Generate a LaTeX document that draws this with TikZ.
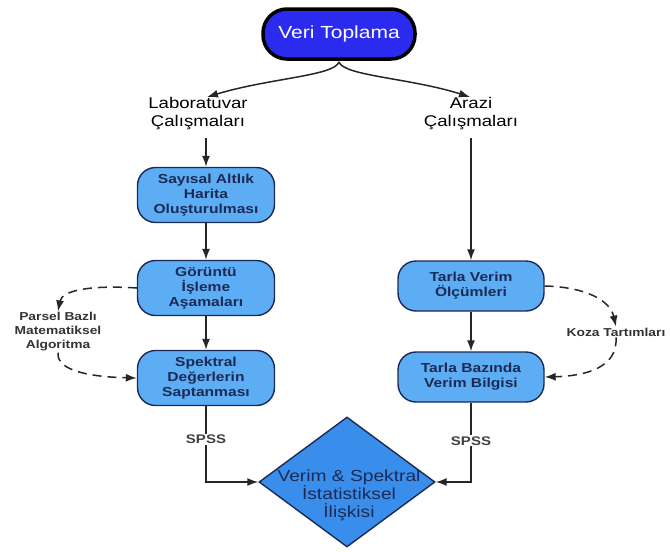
\documentclass[tikz,border=0pt]{standalone}
\usepackage{fontspec}
\setmainfont[FakeStretch=1.2]{Liberation Sans}
\usetikzlibrary{shapes.geometric,arrows.meta}
\definecolor{topblue}{HTML}{2B2BF0}
\definecolor{boxblue}{HTML}{5DADF5}
\definecolor{diablue}{HTML}{3A8EEB}
\definecolor{navy}{HTML}{1B2A55}
\begin{document}
\begin{tikzpicture}[x=1pt,y=-1pt,
  proc/.style={draw=navy, line width=1.4pt, fill=boxblue, rounded corners=18pt,
    minimum width=137pt, minimum height=55pt, align=center, text=navy,
    font=\fontsize{13}{15}\selectfont\bfseries, inner sep=2pt},
  lbl/.style={align=center, font=\fontsize{15.5}{18}\selectfont, inner sep=0pt},
  side/.style={align=center, font=\fontsize{11.5}{14}\selectfont\bfseries, text=black!80, inner sep=1pt},
  arr/.style={-{Latex[length=11pt,width=8pt]}, line width=1.5pt, black!85},
  darr/.style={-{Latex[length=11pt,width=8pt]}, line width=1.5pt, black!85, dash pattern=on 9pt off 6pt},
  spss/.style={fill=white, font=\fontsize{12.5}{14}\selectfont\bfseries, text=black!75, inner sep=1pt}]
\useasboundingbox (0,0) rectangle (670,552);
\node[draw=black, line width=3.5pt, fill=topblue, rounded corners=24pt, minimum width=152pt,
  minimum height=50pt, text=white, font=\fontsize{17.5}{20}\selectfont] (top) at (339,34) {Veri Toplama};
\node[lbl] (lab) at (198,114) {Laboratuvar\\Çalışmaları};
\node[lbl] (ara) at (471,114) {Arazi\\Çalışmaları};
\node[proc] (s1) at (206,195) {Sayısal Altlık\\Harita\\Oluşturulması};
\node[proc] (s2) at (206,288) {Görüntü\\İşleme\\Aşamaları};
\node[proc] (s3) at (206,378) {Spektral\\Değerlerin\\Saptanması};
\node[proc, minimum width=146pt, minimum height=50pt] (r1) at (471,286) {Tarla Verim\\Ölçümleri};
\node[proc, minimum width=146pt, minimum height=50pt] (r2) at (471,377) {Tarla Bazında\\Verim Bilgisi};
\node[diamond, draw=navy, line width=1.4pt, fill=diablue, minimum width=176pt, minimum height=130pt,
  inner sep=0pt] (d) at (347,482) {};
\node[align=center, text=navy, font=\fontsize{16}{18}\selectfont] (dt) at (349,495)
  {Verim \& Spektral\\İstatistiksel\\İlişkisi};
\node[side] (pb) at (58,332) {Parsel Bazlı\\Matematiksel\\Algoritma};
\node[side] (kz) at (616,332) {Koza Tartımları};
\coordinate (tb) at (339,62);
\coordinate (lt) at (207,97);
\coordinate (at) at (470,97);
\draw[arr] (tb) .. controls (334,76) and (270,78) .. (lt);
\draw[arr] (tb) .. controls (344,76) and (410,78) .. (at);
\draw[arr] (s1.north |- lab.south) ++(0,8) -- (s1.north);
\draw[arr] (s1) -- (s2);
\draw[arr] (s2) -- (s3);
\draw[arr] (r1.north |- ara.south) ++(0,8) -- (r1.north);
\draw[arr] (r1) -- (r2);
\draw[arr] (s3.south) |- node[spss, pos=0.22] {SPSS} (d.west);
\draw[arr] (r2.south) |- node[spss, pos=0.24] {SPSS} (d.east);
\draw[darr] (s2.west) .. controls (92,285) and (62,290) .. (pb.north);
\draw[darr] (pb.south) .. controls (56,372) and (95,377) .. (s3.west);
\draw[darr] (r1.east) .. controls (585,287) and (610,300) .. (kz.north);
\draw[darr] (kz.south) .. controls (618,368) and (585,376) .. (r2.east);
\end{tikzpicture}
\end{document}
